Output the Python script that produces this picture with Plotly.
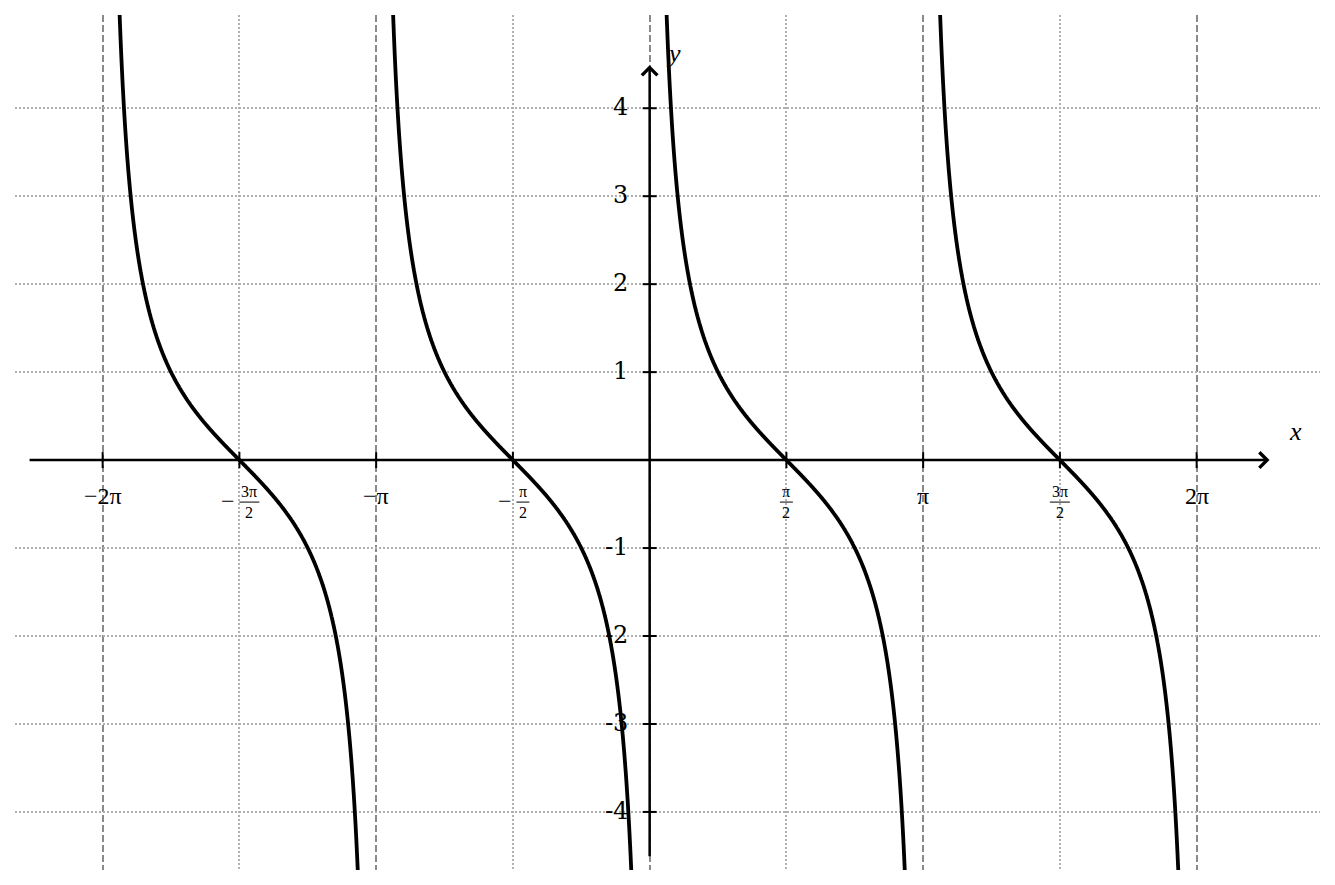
"""
Graph of y = cot(x) on [-2pi, 2pi], drawn textbook style:
axes through the origin with arrows, dashed asymptotes at k*pi,
dotted grid, tick labels written in multiples of pi.
"""

import numpy as np
import plotly.graph_objects as go

PI = np.pi

# asymptotes (dashed) and half-pi grid lines (dotted)
asymptotes = [-2 * PI, -PI, 0, PI, 2 * PI]
half_pi_lines = [-3 * PI / 2, -PI / 2, PI / 2, 3 * PI / 2]

# x axis ticks and their labels
x_tick_vals = [-2 * PI, -3 * PI / 2, -PI, -PI / 2, PI / 2, PI, 3 * PI / 2, 2 * PI]
x_tick_text = ["−2π", "−3π/2", "−π", "−π/2", "π/2", "π", "3π/2", "2π"]

# y axis ticks and their labels
y_tick_vals = [-4, -3, -2, -1, 1, 2, 3, 4]
y_tick_text = ["-4", "-3", "-2", "-1", "1", "2", "3", "4"]

# visible window and the extent of the drawn axis arrows
x_view = [-7.29, 7.70]
y_view = [-4.66, 5.06]
x_arrow = [-7.14, 7.12]
y_arrow = [-4.52, 4.49]

SERIF = "Liberation Serif, Times New Roman, serif"
TICK_FONT = "DejaVu Serif, serif"

fig = go.Figure()

# one branch of cot(x) between each pair of neighbouring asymptotes
for a, b in zip(asymptotes[:-1], asymptotes[1:]):
    xs = np.linspace(a + 0.01, b - 0.01, 3000)
    fig.add_trace(go.Scatter(
        x=xs,
        y=np.cos(xs) / np.sin(xs),
        mode="lines",
        line=dict(color="black", width=3.8, simplify=False),
        hoverinfo="skip",
        showlegend=False,
    ))

# axes with arrow heads
fig.add_annotation(
    x=x_arrow[1], y=0, ax=x_arrow[0], ay=0,
    xref="x", yref="y", axref="x", ayref="y",
    text="", showarrow=True, arrowhead=4, arrowsize=1.2,
    arrowwidth=2.5, arrowcolor="black",
)
fig.add_annotation(
    x=0, y=y_arrow[1], ax=0, ay=y_arrow[0],
    xref="x", yref="y", axref="x", ayref="y",
    text="", showarrow=True, arrowhead=4, arrowsize=1.2,
    arrowwidth=2.5, arrowcolor="black",
)

# tick marks crossing the axes
for xv in x_tick_vals:
    fig.add_shape(
        type="line", xref="x", yref="y",
        x0=xv, x1=xv, ysizemode="pixel", yanchor=0, y0=-8, y1=8,
        line=dict(color="black", width=2), layer="above",
    )
for yv in y_tick_vals:
    fig.add_shape(
        type="line", xref="x", yref="y",
        y0=yv, y1=yv, xsizemode="pixel", xanchor=0, x0=-7, x1=7,
        line=dict(color="black", width=2), layer="above",
    )

# x tick labels, fractions stacked with a bar
for xv, label in zip(x_tick_vals, x_tick_text):
    if "/" not in label:
        fig.add_annotation(
            x=xv, y=0, xref="x", yref="y", text=label, showarrow=False,
            yshift=-36, font=dict(family=SERIF, size=24, color="black"),
        )
        continue
    neg = label.startswith("−")
    num, den = label.lstrip("−").split("/")
    w = 20 if len(num) > 1 else 13
    off = 10 if neg else 0
    fig.add_annotation(
        x=xv, y=0, xref="x", yref="y", text=f"{num}<br>{den}",
        showarrow=False, xshift=off, yshift=-42, yanchor="middle",
        font=dict(family=SERIF, size=16, color="black"),
    )
    fig.add_shape(
        type="line", xref="x", yref="y",
        xsizemode="pixel", xanchor=xv, x0=off - w / 2, x1=off + w / 2,
        ysizemode="pixel", yanchor=0, y0=-42, y1=-42,
        line=dict(color="black", width=1),
    )
    if neg:
        fig.add_annotation(
            x=xv, y=0, xref="x", yref="y", text="−", showarrow=False,
            xanchor="right", xshift=off - w / 2 - 2, yshift=-41,
            font=dict(family=SERIF, size=24, color="black"),
        )

# y tick labels
for yv, label in zip(y_tick_vals, y_tick_text):
    fig.add_annotation(
        x=0, y=yv, xref="x", yref="y", text=label, showarrow=False,
        xanchor="right", xshift=-20, yshift=1,
        font=dict(family=TICK_FONT, size=24, color="black"),
    )

# axis names
fig.add_annotation(
    x=x_arrow[1], y=0, xref="x", yref="y", text="<i>x</i>", showarrow=False,
    xshift=26, yshift=29, font=dict(family=SERIF, size=26, color="black"),
)
fig.add_annotation(
    x=0, y=y_arrow[1], xref="x", yref="y", text="<i>y</i>", showarrow=False,
    xshift=24, yshift=12, font=dict(family=SERIF, size=26, color="black"),
)

fig.update_xaxes(
    range=x_view,
    tickvals=asymptotes,
    showticklabels=False,
    ticks="",
    showgrid=True,
    gridcolor="#8a8a8a",
    gridwidth=2,
    griddash="7px,3px",
    minor=dict(
        tickvals=half_pi_lines,
        showgrid=True,
        gridcolor="#b0b0b0",
        gridwidth=1.5,
        griddash="2px,2px",
    ),
    zeroline=False,
    showline=False,
)
fig.update_yaxes(
    range=y_view,
    tickvals=y_tick_vals,
    showticklabels=False,
    ticks="",
    showgrid=True,
    gridcolor="#b0b0b0",
    gridwidth=1.5,
    griddash="2px,2px",
    zeroline=False,
    showline=False,
)

fig.update_layout(
    width=1335,
    height=885,
    margin=dict(l=15, r=15, t=15, b=15),
    plot_bgcolor="white",
    paper_bgcolor="white",
    showlegend=False,
)

fig.write_html(
    "out.html",
    config={"displayModeBar": False},
    post_script="document.body.style.margin='0';",
)
